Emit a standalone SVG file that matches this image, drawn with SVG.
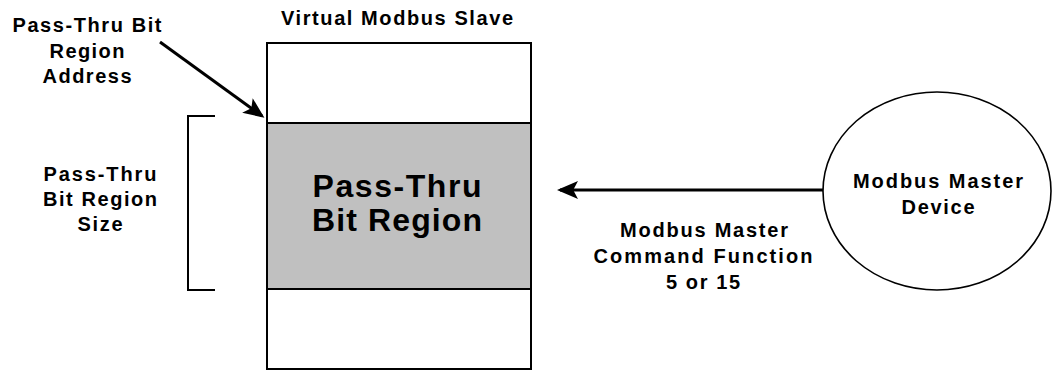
<svg xmlns="http://www.w3.org/2000/svg" width="1052" height="373" viewBox="0 0 1052 373">
  <style>
    .lbl { font-family: "Liberation Sans", Arial, sans-serif; font-weight: bold; font-size: 20px; fill: #000; text-anchor: middle; }
    .big { font-family: "Liberation Sans", Arial, sans-serif; font-weight: bold; font-size: 32px; fill: #000; text-anchor: middle; }
    .edge { fill: none; stroke: #000; }
  </style>
  <defs>
    <marker id="head" markerWidth="7" markerHeight="6" refX="6" refY="3" orient="auto" markerUnits="strokeWidth">
      <path d="M0,0 L7,3 L0,6 L1.6,3 Z" fill="#000"/>
    </marker>
  </defs>
  <rect width="1052" height="373" fill="#fff"/>

  <!-- Virtual slave memory block -->
  <g id="slave">
    <text class="lbl" x="397" y="25" textLength="232" lengthAdjust="spacing">Virtual Modbus Slave</text>
    <rect x="267" y="43" width="264" height="326" fill="#fff" stroke="#000" stroke-width="2"/>
  </g>

  <g id="region">
    <rect x="267" y="123" width="264" height="166" fill="#c0c0c0" stroke="#000" stroke-width="2"/>
    <text class="big" x="397" y="197" textLength="169" lengthAdjust="spacing">Pass-Thru</text>
    <text class="big" x="397" y="231" textLength="170" lengthAdjust="spacing">Bit Region</text>
  </g>

  <g id="address-label">
    <text class="lbl" x="87" y="32" textLength="149" lengthAdjust="spacing">Pass-Thru Bit</text>
    <text class="lbl" x="87" y="58" textLength="75" lengthAdjust="spacing">Region</text>
    <text class="lbl" x="87" y="83" textLength="89" lengthAdjust="spacing">Address</text>
  </g>

  <g id="size-label">
    <text class="lbl" x="100" y="181" textLength="113" lengthAdjust="spacing">Pass-Thru</text>
    <text class="lbl" x="100" y="206" textLength="114" lengthAdjust="spacing">Bit Region</text>
    <text class="lbl" x="100" y="231" textLength="45" lengthAdjust="spacing">Size</text>
  </g>

  <g id="master">
    <ellipse cx="937" cy="191" rx="114" ry="99" fill="#fff" stroke="#000" stroke-width="1.6"/>
    <text class="lbl" x="938" y="188" textLength="170" lengthAdjust="spacing">Modbus Master</text>
    <text class="lbl" x="938" y="214" textLength="73" lengthAdjust="spacing">Device</text>
  </g>

  <g id="command-label">
    <text class="lbl" x="704" y="237" textLength="168" lengthAdjust="spacing">Modbus Master</text>
    <text class="lbl" x="703" y="263" textLength="219" lengthAdjust="spacing">Command Function</text>
    <text class="lbl" x="703" y="289" textLength="74" lengthAdjust="spacing">5 or 15</text>
  </g>

  <g id="connectors">
    <line class="edge" x1="823" y1="190" x2="560" y2="190" stroke-width="3" marker-end="url(#head)"/>
    <line class="edge" x1="160" y1="42" x2="262" y2="116" stroke-width="3" marker-end="url(#head)"/>
    <polyline class="edge" points="215,116 188,116 188,290 215,290" stroke-width="2"/>
  </g>
</svg>
